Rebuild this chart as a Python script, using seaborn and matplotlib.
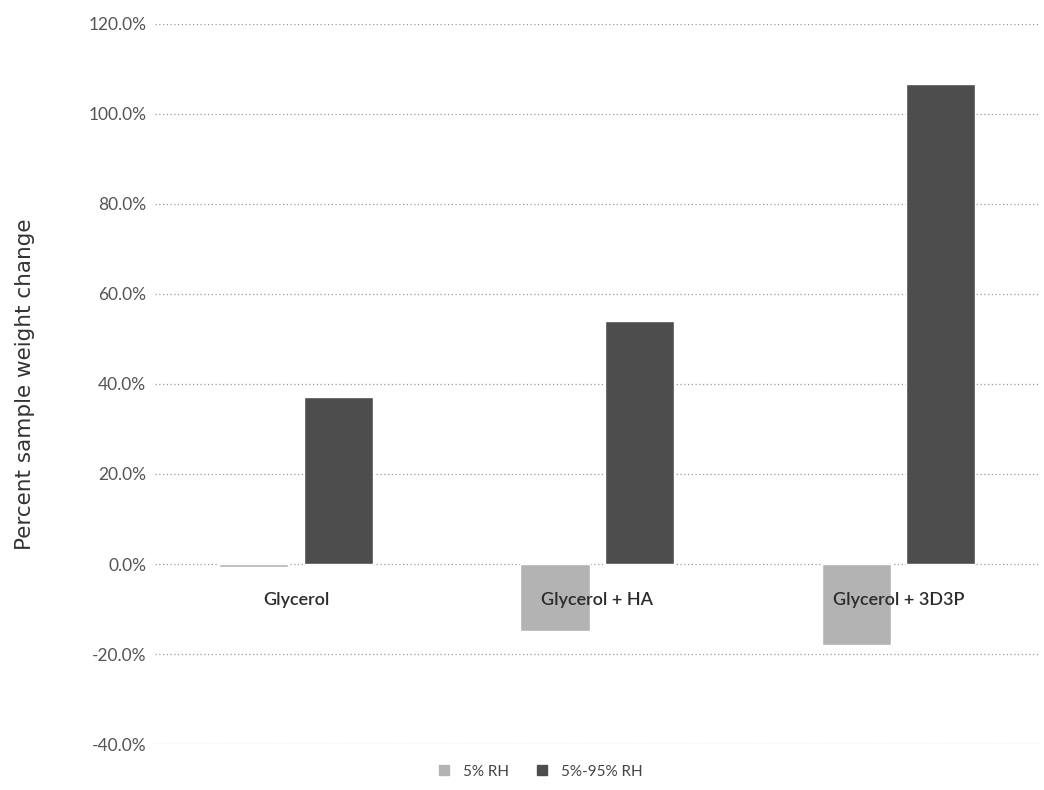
import pandas as pd
import matplotlib.pyplot as plt
import seaborn as sns
from matplotlib.ticker import PercentFormatter

# Chart values
categories = ["Glycerol", "Glycerol + HA", "Glycerol + 3D3P"]
series_names = ["5% RH", "5%-95% RH"]
rh_5 = [-0.7, -14.9, -18.0]
rh_5_95 = [37.0, 54.0, 106.6]
y_ticks = [-40, -20, 0, 20, 40, 60, 80, 100, 120]

df = pd.DataFrame({
    "category": categories * 2,
    "series": [series_names[0]] * 3 + [series_names[1]] * 3,
    "value": rh_5 + rh_5_95,
})

sns.set_style("white")
plt.rcParams['font.family'] = ['Lato', 'DejaVu Sans']
plt.rcParams['axes.unicode_minus'] = False

fig = plt.figure(figsize=(10.44, 7.90), dpi=100)
ax = fig.add_axes([0.148, 0.058, 0.848, 0.912])

palette = {series_names[0]: "#b3b3b3", series_names[1]: "#4d4d4d"}
sns.barplot(data=df, x="category", y="value", hue="series", palette=palette,
            width=0.56, gap=0.18, ax=ax, legend=False, saturation=1)

# Gridlines
ax.set_ylim(-40, 120)
ax.set_yticks(y_ticks)
ax.yaxis.set_major_formatter(PercentFormatter(decimals=1))
ax.grid(axis="y", color="#9a9a9a", linestyle=(0, (1, 2)), linewidth=0.9)
ax.set_axisbelow(True)
ax.set_xlim(-0.47, 2.47)

for s in ax.spines.values():
    s.set_visible(False)

# Category labels sit just under the zero line, drawn over the bars
ax.set_xticks(range(len(categories)))
ax.set_xticklabels([])
ax.tick_params(axis="x", length=0)
for i, name in enumerate(categories):
    ax.text(i, -8, name, ha="center", va="center", fontsize=13,
            color="#2b2b2b", fontweight="semibold", zorder=5)

ax.tick_params(axis="y", length=0, pad=6, labelsize=12.5, colors="#555555")
ax.set_xlabel("")
ax.set_ylabel("Percent sample weight change", fontsize=15.5, color="#333333",
              family=["DejaVu Sans"])
ax.yaxis.set_label_coords(-0.135, 0.5)

# Legend
handles = [plt.Line2D([], [], marker="s", linestyle="", markersize=7,
                      color=palette[n]) for n in series_names]
fig.legend(handles, series_names, loc="center", bbox_to_anchor=(0.513, 0.023),
           ncol=2, frameon=False, fontsize=11, handletextpad=0.2,
           columnspacing=1.2, labelcolor="#444444")

plt.savefig("out.png", dpi=100)
